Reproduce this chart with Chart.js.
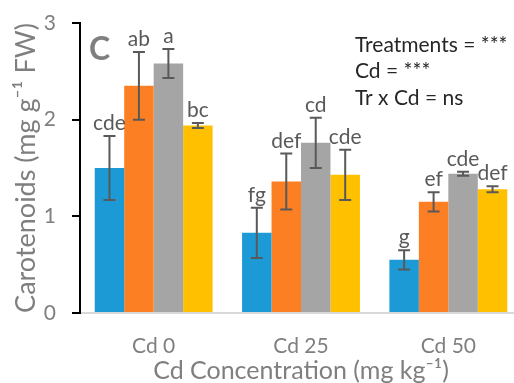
<!DOCTYPE html>
<html>
<head>
<meta charset="utf-8">
<script src="https://cdn.jsdelivr.net/npm/chart.js@4"></script>
<style>
    html, body { margin: 0; padding: 0; background: #fff; overflow: hidden; }
    #wrap { width: 522px; height: 383px; }
</style>
</head>
<body>
<div id="wrap"><canvas id="carotenoids"></canvas></div>
<script>
// Carotenoid content per Cd level, four treatments each.
let cdLevels = ['Cd 0', 'Cd 25', 'Cd 50'];

let t1Values = [1.50, 0.83, 0.55];
let t2Values = [2.35, 1.36, 1.15];
let t3Values = [2.58, 1.76, 1.44];
let t4Values = [1.94, 1.43, 1.28];

let t1Errors = [0.33, 0.26, 0.10];
let t2Errors = [0.35, 0.29, 0.10];
let t3Errors = [0.15, 0.26, 0.02];
let t4Errors = [0.025, 0.26, 0.03];

let t1Letters = ['cde', 'fg', 'g'];
let t2Letters = ['ab', 'def', 'ef'];
let t3Letters = ['a', 'cd', 'cde'];
let t4Letters = ['bc', 'cde', 'def'];

let yTicks = [0, 1, 2, 3];

let statsLines = ['Treatments = ***', 'Cd = ***', 'Tr x Cd = ns'];

let fontFamily = 'Lato, "Open Sans", sans-serif';

// Error bars and significance letters, drawn on top of the bars.
const errorBarPlugin = {
    id: 'errorBars',
    afterDatasetsDraw(chart) {
        const ctx = chart.ctx;
        const y = chart.scales.y;
        ctx.save();
        chart.data.datasets.forEach((ds, i) => {
            const meta = chart.getDatasetMeta(i);
            meta.data.forEach((bar, j) => {
                const v = ds.data[j];
                const e = ds.errors[j];
                const top = y.getPixelForValue(v + e);
                const bottom = y.getPixelForValue(v - e);
                ctx.strokeStyle = '#595959';
                ctx.lineWidth = 2;
                ctx.beginPath();
                ctx.moveTo(bar.x, top);
                ctx.lineTo(bar.x, bottom);
                ctx.moveTo(bar.x - 6, top);
                ctx.lineTo(bar.x + 6, top);
                ctx.moveTo(bar.x - 6, bottom);
                ctx.lineTo(bar.x + 6, bottom);
                ctx.stroke();

                ctx.fillStyle = '#595959';
                ctx.font = '21px ' + fontFamily;
                ctx.textAlign = 'center';
                ctx.textBaseline = 'alphabetic';
                ctx.fillText(ds.letters[j], bar.x, top - 6);
            });
        });

        // panel letter
        ctx.fillStyle = '#7f7f7f';
        ctx.font = 'bold 32px ' + fontFamily;
        ctx.textAlign = 'left';
        ctx.textBaseline = 'middle';
        ctx.fillText('C', 89, 50);

        // ANOVA summary
        ctx.fillStyle = '#262626';
        ctx.font = '21px ' + fontFamily;
        statsLines.forEach((line, k) => {
            ctx.fillText(line, 355, 45 + k * 26.5);
        });
        ctx.restore();
    }
};

function makeDataset(label, data, errors, letters, color) {
    return {
        label: label,
        data: data,
        errors: errors,
        letters: letters,
        backgroundColor: color,
        borderWidth: 0
    };
}

new Chart(document.getElementById('carotenoids'), {
    type: 'bar',
    data: {
        labels: cdLevels,
        datasets: [
            makeDataset('T1', t1Values, t1Errors, t1Letters, '#1b9ad6'),
            makeDataset('T2', t2Values, t2Errors, t2Letters, '#fd7f23'),
            makeDataset('T3', t3Values, t3Errors, t3Letters, '#a5a5a5'),
            makeDataset('T4', t4Values, t4Errors, t4Letters, '#ffc000')
        ]
    },
    options: {
        responsive: true,
        maintainAspectRatio: false,
        animation: false,
        layout: {
            padding: { top: 23, right: 0, bottom: 0, left: 0 }
        },
        plugins: {
            legend: { display: false },
            tooltip: { enabled: false }
        },
        datasets: {
            bar: { categoryPercentage: 0.8, barPercentage: 1.0 }
        },
        scales: {
            x: {
                afterFit(scale) {
                    scale.height = 70;
                },
                grid: { display: false },
                border: { color: '#d9d9d9', width: 2 },
                ticks: {
                    color: '#7f7f7f',
                    font: { family: fontFamily, size: 21 },
                    padding: 13
                },
                title: {
                    display: true,
                    text: 'Cd Concentration (mg kg\u207B\u00B9)',
                    color: '#7f7f7f',
                    font: { family: fontFamily, size: 25 },
                    padding: { top: 0, bottom: -3 }
                }
            },
            y: {
                min: 0,
                max: 3,
                afterBuildTicks(scale) {
                    scale.ticks = yTicks.map(v => ({ value: v }));
                },
                afterFit(scale) {
                    scale.width = 80;
                    scale.paddingTop = 0;
                    scale.paddingBottom = 0;
                },
                grid: {
                    drawOnChartArea: false,
                    drawTicks: true,
                    tickLength: 8,
                    color: '#000',
                    lineWidth: 2
                },
                border: { color: '#000', width: 2 },
                ticks: {
                    color: '#7f7f7f',
                    font: { family: fontFamily, size: 21 },
                    padding: 16
                },
                title: {
                    display: true,
                    text: 'Carotenoids (mg g\u207B\u00B9 FW)',
                    color: '#7f7f7f',
                    font: { family: fontFamily, size: 27 },
                    padding: { top: 10, bottom: 0 }
                }
            }
        }
    },
    plugins: [errorBarPlugin]
});
</script>
</body>
</html>
